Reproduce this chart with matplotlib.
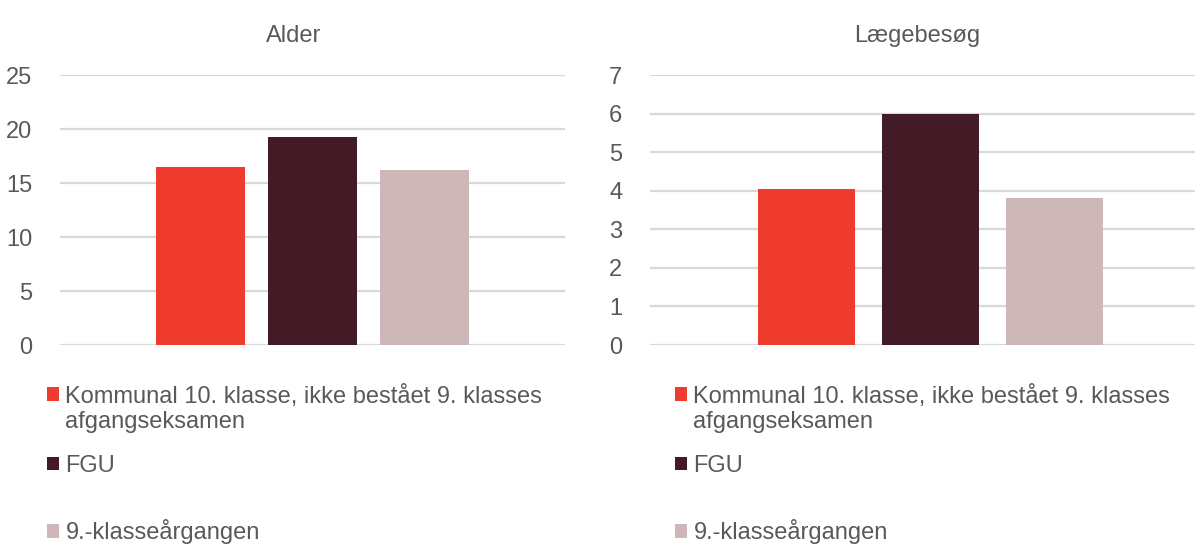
import matplotlib.pyplot as plt
from matplotlib.patches import Patch

plt.rcParams['font.family'] = ['Liberation Sans', 'DejaVu Sans']

series = ['Kommunal 10. klasse, ikke bestået 9. klasses',
          'FGU',
          '9.-klasseårgangen']
series_wrap = 'afgangseksamen'
colors = ['#EE3B2E', '#431B26', '#CDB7B9']

titles = ['Alder', 'Lægebesøg']
alder = [16.5, 19.25, 16.2]
laege = [4.05, 6.0, 3.82]
yticks_alder = [0, 5, 10, 15, 20, 25]
yticks_laege = [0, 1, 2, 3, 4, 5, 6, 7]

TEXT = '#595959'
GRID = '#D9D9D9'
FS = 17
W, H = 1195, 547

fig = plt.figure(figsize=(W / 100, H / 100), dpi=100)

# (title, values, ticks, [left, bottom, width, height] in px, bar width, offset, shift, title x, legend x)
panels = [
    (titles[0], alder, yticks_alder, [60, 345, 505, 270], 0.176, 0.222, 0.0, 0.462, 47),
    (titles[1], laege, yticks_laege, [650, 345, 545, 270], 0.178, 0.227, 0.015, 0.49, 675),
]
legend_y = [396, 466, 532]


def legend_entry(handle, label, x, y):
    fig.legend([handle], [label], loc='center left',
               bbox_to_anchor=(x / W, 1 - y / H),
               frameon=False, fontsize=FS, labelcolor=TEXT,
               handlelength=0.5, handleheight=0.5, handletextpad=0.28,
               borderpad=0, borderaxespad=0)


for title, vals, ticks, box, w, off, shift, tx, legx in panels:
    left, bot, width, height = box
    ax = fig.add_axes([left / W, 1 - bot / H, width / W, height / H])
    for i, (v, c) in enumerate(zip(vals, colors)):
        ax.bar((i - 1) * off + shift, v, width=w, color=c, zorder=3)
    ax.set_xlim(-0.5, 0.5)
    ax.set_ylim(0, ticks[-1])
    ax.set_yticks(ticks)
    ax.set_xticks([])
    ax.yaxis.grid(True, color=GRID, linewidth=1.6, zorder=0)
    ax.set_axisbelow(True)
    for s in ax.spines.values():
        s.set_visible(False)
    ax.tick_params(axis='y', length=0, labelsize=FS, labelcolor=TEXT, pad=20)
    ax.set_title(title, fontsize=FS, color=TEXT, pad=24, x=tx)

    for lab, c, ly in zip(series, colors, legend_y):
        legend_entry(Patch(facecolor=c, edgecolor='none'), lab, legx, ly)
    legend_entry(Patch(facecolor='none', edgecolor='none'), series_wrap, legx, legend_y[0] + 26)

fig.savefig('out.png', dpi=100)
